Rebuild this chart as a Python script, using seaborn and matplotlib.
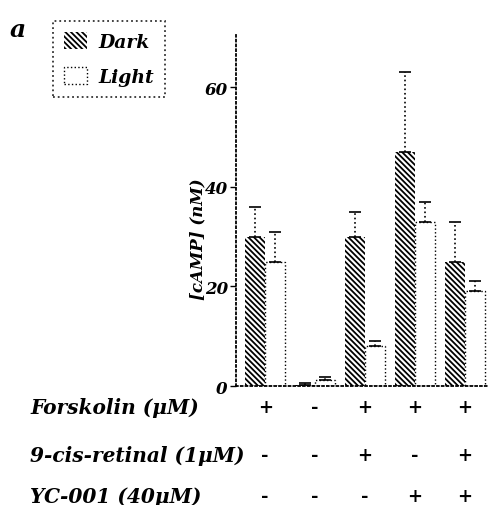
#!/usr/bin/env python3

import matplotlib.pyplot as plt
import numpy as np
import pandas as pd
import seaborn as sns
from matplotlib.patches import Patch

conditions = ["c1", "c2", "c3", "c4", "c5"]
dark_mean = [30, 0.3, 30, 47, 25]
dark_err = [6, 0.3, 5, 16, 8]
light_mean = [25, 1.3, 8, 33, 19]
light_err = [6, 0.5, 1, 4, 2]

row_labels = ["Forskolin (\u03bcM)", "9-cis-retinal (1\u03bcM)", "YC-001 (40\u03bcM)"]
forskolin = ["+", "-", "+", "+", "+"]
retinal = ["-", "-", "+", "-", "+"]
yc001 = ["-", "-", "-", "+", "+"]

df = pd.DataFrame({
    "cond": conditions * 2,
    "camp": dark_mean + light_mean,
    "err": dark_err + light_err,
    "group": ["Dark"] * 5 + ["Light"] * 5,
})

sns.set_theme(style="white")
plt.rcParams["font.family"] = ["DejaVu Serif"]
plt.rcParams["text.color"] = "black"
plt.rcParams["axes.labelcolor"] = "black"
plt.rcParams["ytick.color"] = "black"
plt.rcParams["hatch.linewidth"] = 1.3

fig = plt.figure(figsize=(4.9, 5.06), dpi=100)
ax = fig.add_axes([0.482, 0.235, 0.514, 0.694])

sns.barplot(
    data=df, x="cond", y="camp", hue="group",
    palette={"Dark": "white", "Light": "white"},
    errorbar=None, ax=ax, legend=False,
)

dense = "\\" * 6
n = len(conditions)
for i, bar in enumerate(ax.patches[:2 * n]):
    if i < n:
        bar.set_hatch(dense)
        bar.set_edgecolor("black")
        bar.set_linewidth(0)
    else:
        bar.set_edgecolor("black")
        bar.set_linewidth(1.0)
        bar.set_linestyle(":")

errs = dark_err + light_err
for bar, e in zip(ax.patches[:2 * n], errs):
    xc = bar.get_x() + bar.get_width() / 2
    cont = ax.errorbar(xc, bar.get_height(), yerr=[[0], [e]], fmt="none",
                       ecolor="black", elinewidth=1.2, capsize=4, capthick=1.2)
    for coll in cont.lines[2]:
        coll.set_linestyle(":")
for line in ax.lines:
    line.set_linestyle(":")

ax.set_xlim(-0.58, 4.46)
ax.set_ylim(0, 70.5)
ax.set_yticks([0, 20, 40, 60])
ax.set_yticklabels(["0", "20", "40", "60"], fontsize=12, fontweight="bold",
                   fontstyle="italic")
ax.set_xticks([])
ax.set_xlabel("")
ax.set_ylabel("[cAMP] (nM)", fontsize=12, fontweight="bold", fontstyle="italic")
ax.yaxis.set_label_coords(-0.12, 0.42)
ax.tick_params(axis="y", left=True, length=4, width=1, direction="out", pad=2)

for s in ["top", "right"]:
    ax.spines[s].set_visible(False)
for s in ["left", "bottom"]:
    ax.spines[s].set_linestyle(":")
    ax.spines[s].set_linewidth(1.3)
    ax.spines[s].set_color("black")

# treatment table under the bars
rows_y = [408, 456, 497]
for label, signs, py in zip(row_labels, [forskolin, retinal, yc001], rows_y):
    yf = 1 - py / 506
    fig.text(30 / 490, yf, label, ha="left", va="center", fontsize=14.5,
             fontweight="bold", fontstyle="italic")
    for j, s in enumerate(signs):
        xd = ax.transData.transform((j, 0))[0]
        fig.text(xd / 490, yf, s, ha="center", va="center", fontsize=13,
                 fontweight="bold")

fig.text(10 / 490, 1 - 30 / 506, "a", fontsize=18, fontweight="bold",
         fontstyle="italic", ha="left", va="center")

handles = [
    Patch(facecolor="white", edgecolor="black", hatch=dense, linewidth=0),
    Patch(facecolor="white", edgecolor="black", linestyle=":", linewidth=1),
]
leg = fig.legend(handles, ["Dark", "Light"], loc="upper left",
                 bbox_to_anchor=(53 / 490, 1 - 22 / 506), frameon=True,
                 prop={"size": 13.5, "weight": "bold", "style": "italic"},
                 handlelength=1.2, handleheight=1.0, borderpad=0.6,
                 labelspacing=0.85, handletextpad=0.6, fancybox=False,
                 borderaxespad=0)
leg.get_frame().set_edgecolor("black")
leg.get_frame().set_linestyle(":")
leg.get_frame().set_linewidth(1.3)

plt.savefig("out.png", dpi=100)
